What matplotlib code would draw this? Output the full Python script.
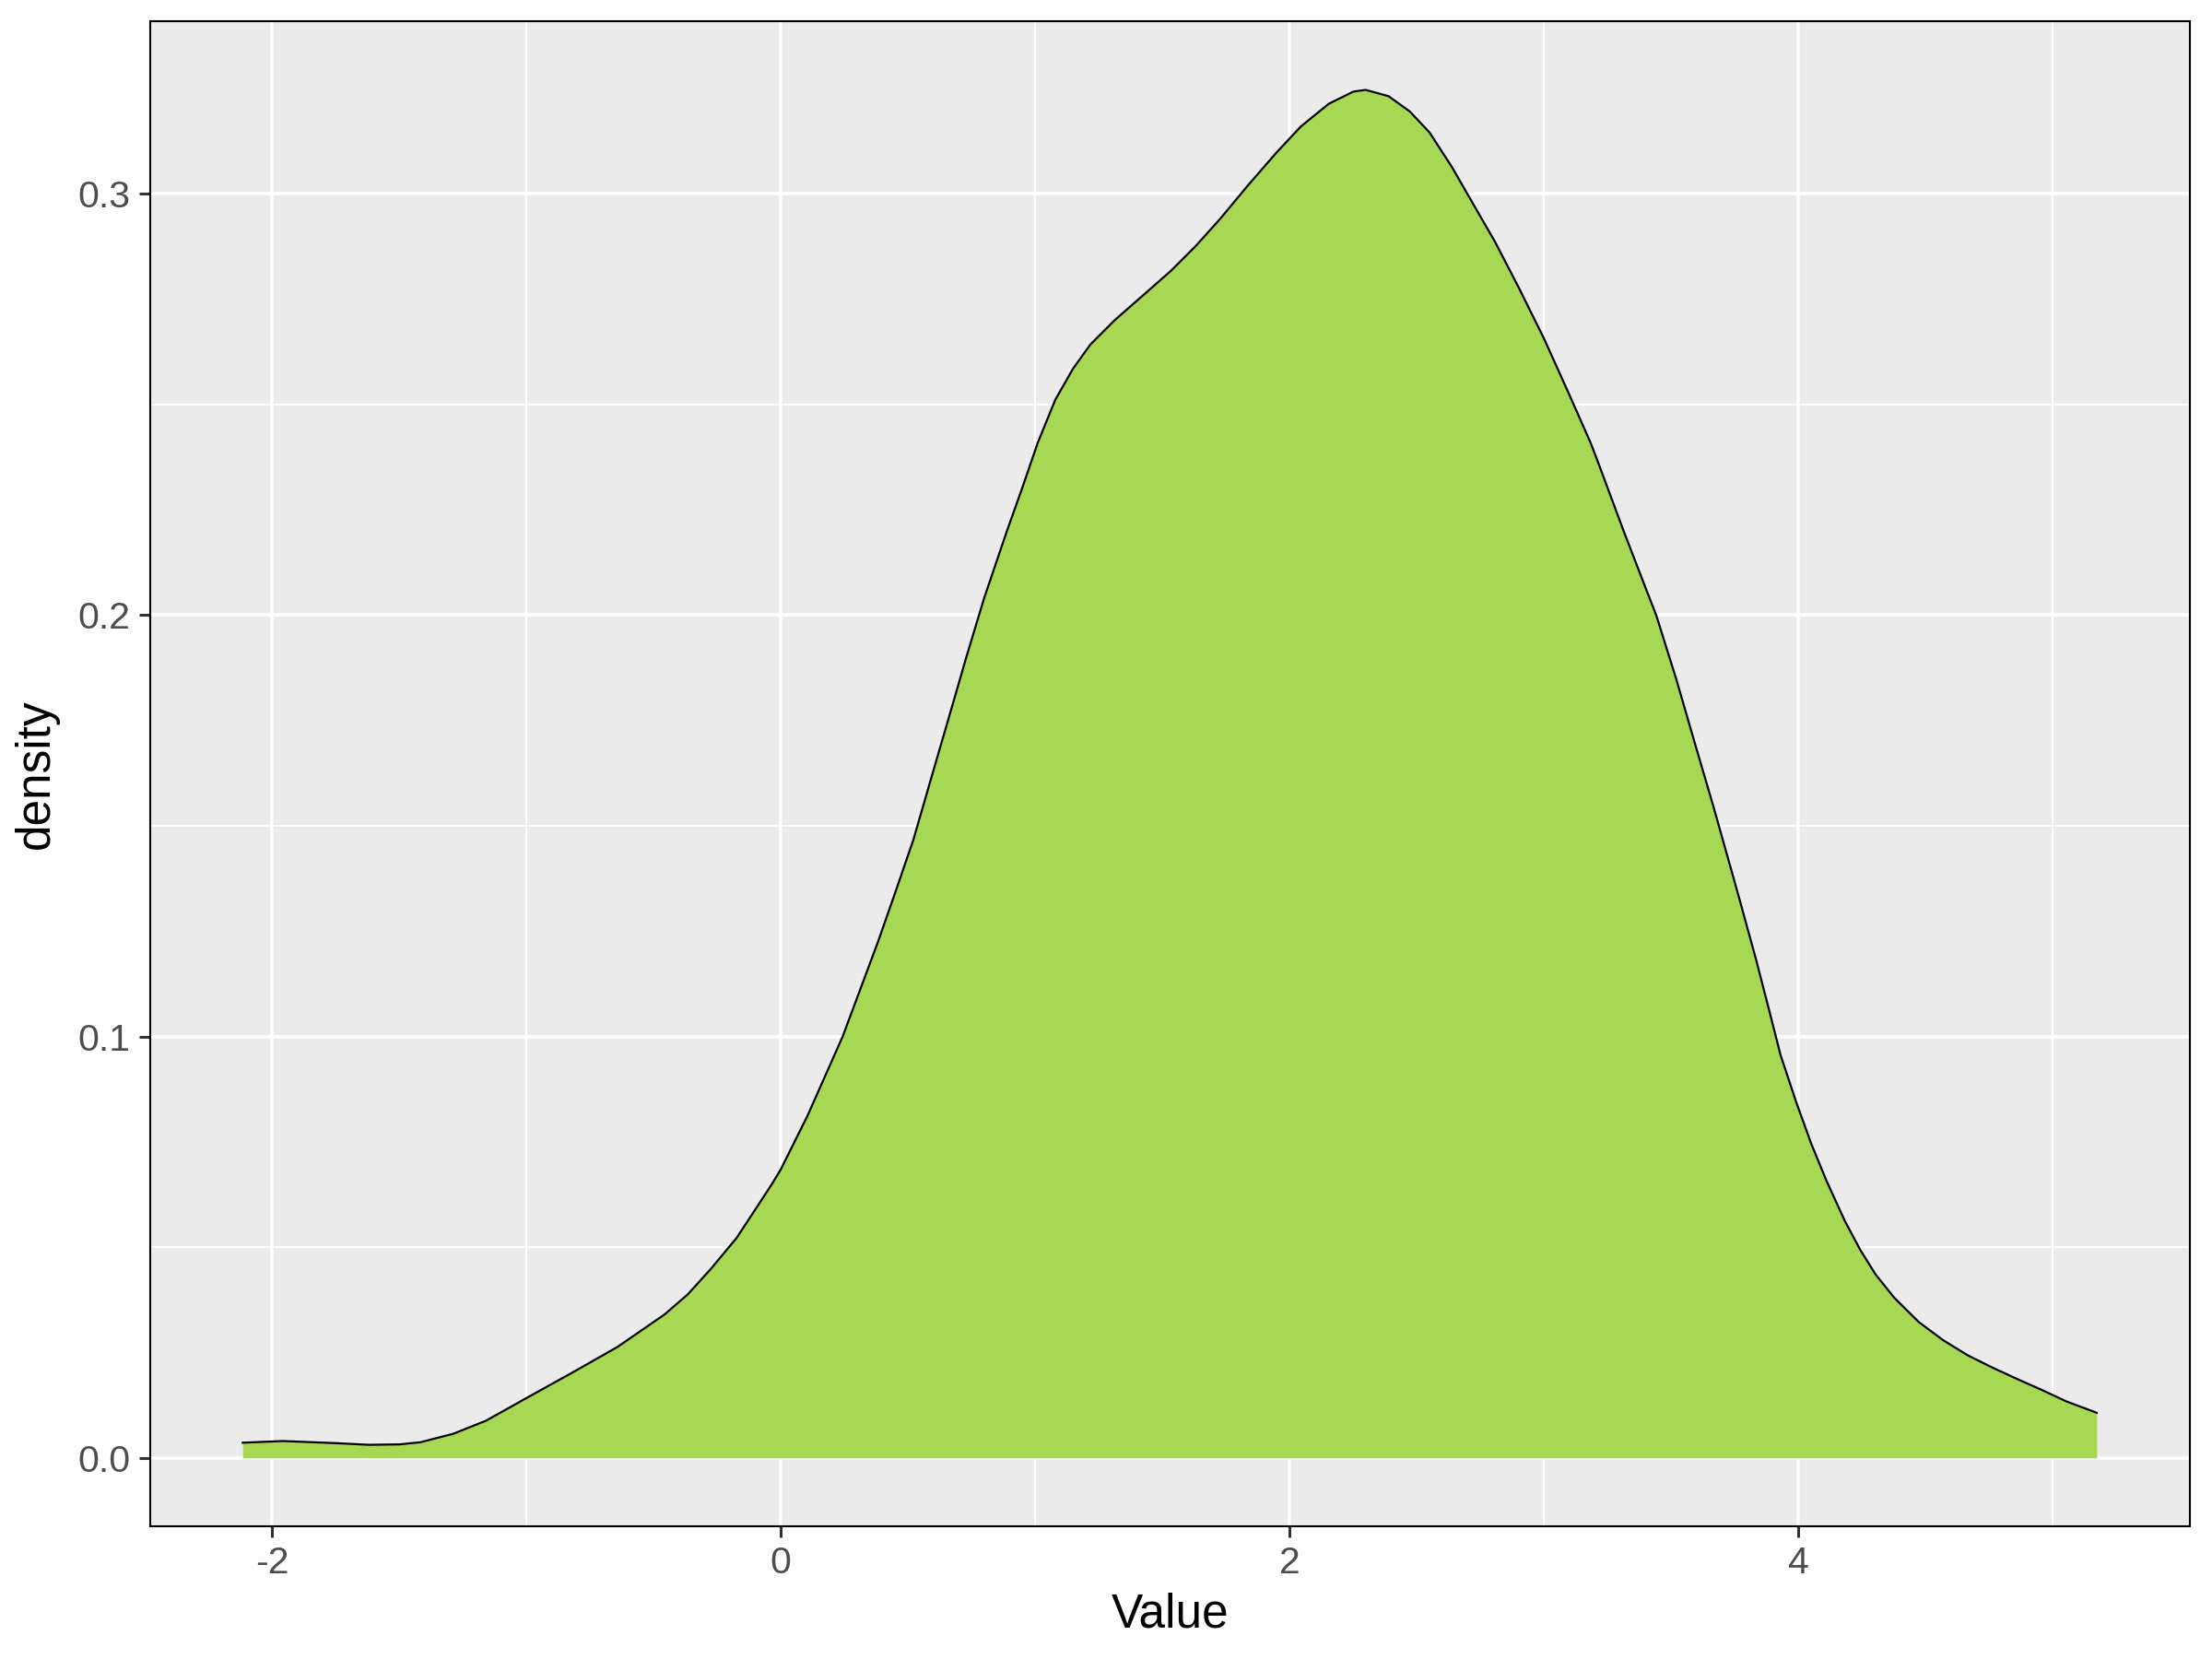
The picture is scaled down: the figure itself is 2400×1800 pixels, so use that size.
import matplotlib
matplotlib.use("Agg")
import matplotlib.pyplot as plt
from matplotlib.ticker import MultipleLocator

plt.rcParams['font.family'] = ['Liberation Sans', 'DejaVu Sans']

# Density curve
value_x = [-2.116, -1.958, -1.751, -1.620, -1.500, -1.418, -1.289, -1.160, -1.012, -0.827,
           -0.643, -0.458, -0.366, -0.273, -0.174, -0.089, -0.035, 0.000, 0.104, 0.243,
           0.382, 0.451, 0.521, 0.590, 0.660, 0.729, 0.799, 0.889, 0.948, 1.010,
           1.079, 1.148, 1.217, 1.313, 1.423, 1.534, 1.630, 1.727, 1.837, 1.948,
           2.044, 2.154, 2.251, 2.299, 2.389, 2.472, 2.550, 2.637, 2.720, 2.808,
           2.904, 3.000, 3.098, 3.183, 3.211, 3.314, 3.399, 3.441, 3.520, 3.592,
           3.665, 3.762, 3.834, 3.887, 3.930, 3.990, 4.051, 4.111, 4.183, 4.244,
           4.304, 4.377, 4.474, 4.570, 4.667, 4.764, 4.861, 4.958, 5.054, 5.173]
density_y = [0.0036, 0.0040, 0.0035, 0.0031, 0.0032, 0.0037, 0.0057, 0.0088, 0.0138, 0.0200,
             0.0263, 0.0340, 0.0388, 0.0450, 0.0522, 0.0600, 0.0650, 0.0685, 0.0811, 0.1000,
             0.1225, 0.1344, 0.1467, 0.1611, 0.1756, 0.1900, 0.2040, 0.2200, 0.2300, 0.2409,
             0.2511, 0.2584, 0.2642, 0.2700, 0.2758, 0.2817, 0.2875, 0.2940, 0.3020, 0.3097,
             0.3159, 0.3213, 0.3242, 0.3246, 0.3231, 0.3195, 0.3145, 0.3064, 0.2977, 0.2885,
             0.2773, 0.2656, 0.2525, 0.2409, 0.2365, 0.2198, 0.2065, 0.2000, 0.1848, 0.1698,
             0.1548, 0.1340, 0.1182, 0.1058, 0.0956, 0.0847, 0.0745, 0.0657, 0.0562, 0.0493,
             0.0435, 0.0380, 0.0322, 0.0279, 0.0243, 0.0214, 0.0187, 0.0161, 0.0134, 0.0107]

x_ticks = [-2, 0, 2, 4]
x_tick_labels = ["-2", "0", "2", "4"]
y_ticks = [0.0, 0.1, 0.2, 0.3]
y_tick_labels = ["0.0", "0.1", "0.2", "0.3"]

fig = plt.figure(figsize=(24, 18), dpi=100)
ax = fig.add_axes([162.7 / 2400, 1 - 1656 / 1800, (2375.5 - 162.7) / 2400, (1656 - 23.3) / 1800])
ax.set_facecolor('#EBEBEB')

ax.fill_between(value_x, 0, density_y, color='#A6D854', linewidth=0, zorder=3)
ax.plot(value_x, density_y, color='black', linewidth=1.6, zorder=4,
        solid_joinstyle='round')

xr = max(value_x) - min(value_x)
ax.set_xlim(min(value_x) - 0.05 * xr, max(value_x) + 0.05 * xr)
ymax = max(density_y)
ax.set_ylim(-0.05 * ymax, ymax * 1.05)

ax.set_xticks(x_ticks)
ax.set_xticklabels(x_tick_labels)
ax.set_yticks(y_ticks)
ax.set_yticklabels(y_tick_labels)
ax.xaxis.set_minor_locator(MultipleLocator(1))
ax.yaxis.set_minor_locator(MultipleLocator(0.05))

ax.grid(which='major', color='white', linewidth=2.6, zorder=1)
ax.grid(which='minor', color='white', linewidth=1.4, zorder=1)
ax.set_axisbelow(True)

ax.tick_params(which='major', length=8.6, width=2.2, color='#333333',
               labelsize=29.5, labelcolor='#4D4D4D', pad=6.4)
ax.tick_params(which='minor', length=0)

for s in ax.spines.values():
    s.set_color('black')
    s.set_linewidth(1.5)
    s.set_zorder(5)

ax.set_xlabel('Value', fontsize=37, color='black', labelpad=9)
ax.set_ylabel('density', fontsize=37, color='black', labelpad=15)

fig.savefig('out.png', dpi=100, facecolor='white')
